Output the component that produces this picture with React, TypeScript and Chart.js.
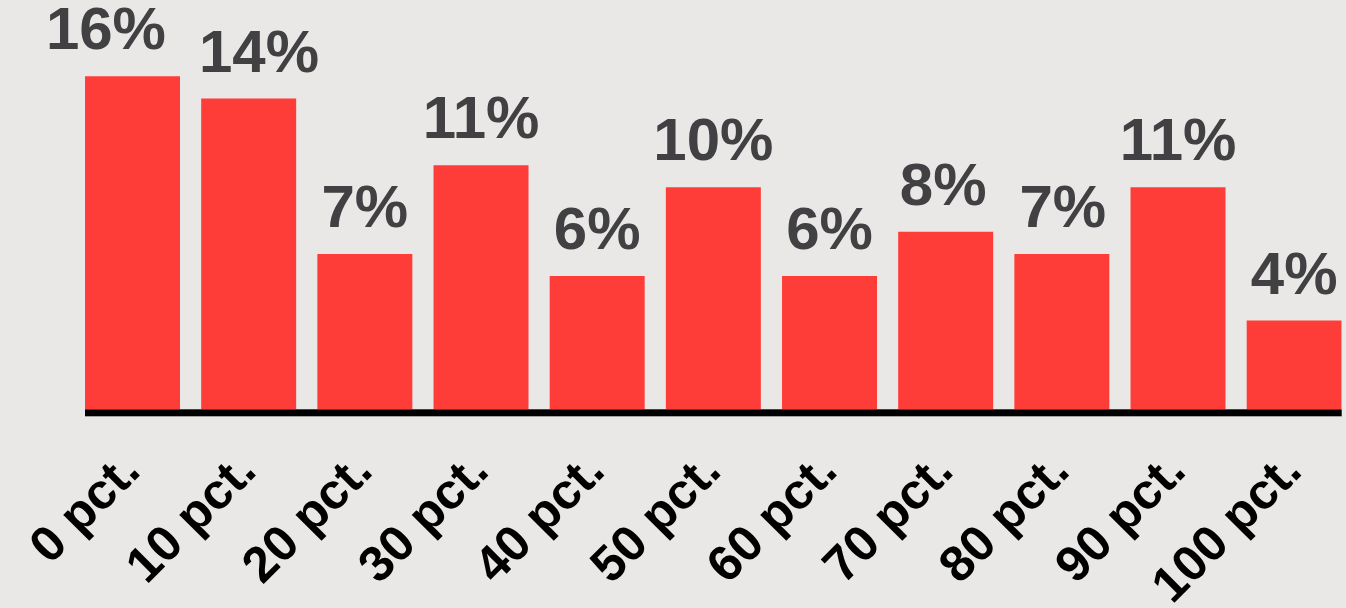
import React, { useEffect, useRef } from "react";
import { Chart, registerables } from "chart.js";

Chart.register(...registerables);

const categories = [
  "0 pct.", "10 pct.", "20 pct.", "30 pct.", "40 pct.", "50 pct.",
  "60 pct.", "70 pct.", "80 pct.", "90 pct.", "100 pct.",
];
const values = [15, 14, 7, 11, 6, 10, 6, 8, 7, 10, 4];
const valueLabels = ["16%", "14%", "7%", "11%", "6%", "10%", "6%", "8%", "7%", "11%", "4%"];

const BG = "#e9e8e6";
const BAR = "#ff3d38";
const LABEL = "#414042";
const FONT = "'Liberation Sans', Arial, Helvetica, sans-serif";

const valueLabelPlugin = {
  id: "valueLabels",
  afterDatasetsDraw(chart: any) {
    const { ctx, chartArea } = chart;
    ctx.save();
    ctx.fillStyle = "#000000";
    ctx.fillRect(chartArea.left, chartArea.bottom, chartArea.right - chartArea.left, 7);
    ctx.restore();

    const meta = chart.getDatasetMeta(0);
    ctx.save();
    ctx.font = `bold 60px ${FONT}`;
    ctx.fillStyle = LABEL;
    ctx.textAlign = "center";
    ctx.textBaseline = "alphabetic";
    const boxes = meta.data.map((bar: any, i: number) => {
      const w = ctx.measureText(valueLabels[i]).width;
      return { cx: bar.x, y: bar.y - 27, w };
    });
    const minGap = 33;
    for (let i = 0; i < boxes.length - 1; i++) {
      const a = boxes[i];
      const b = boxes[i + 1];
      if (Math.abs(a.y - b.y) > 44) continue;
      const gap = (b.cx - b.w / 2) - (a.cx + a.w / 2);
      if (gap < minGap) {
        const need = minGap - gap;
        a.cx -= need * 0.72;
        b.cx += need * 0.28;
      }
    }
    boxes.forEach((bx: any, i: number) => {
      ctx.fillText(valueLabels[i], bx.cx, bx.y);
    });
    ctx.restore();
  },
};

const bgPlugin = {
  id: "bg",
  beforeDraw(chart: any) {
    const { ctx, width, height } = chart;
    ctx.save();
    ctx.fillStyle = BG;
    ctx.fillRect(0, 0, width, height);
    ctx.restore();
  },
};

export default function App() {
  const ref = useRef<HTMLCanvasElement | null>(null);

  useEffect(() => {
    document.body.style.margin = "0";
    document.body.style.background = BG;
    const canvas = ref.current;
    if (!canvas) return;
    const chart = new Chart(canvas, {
      type: "bar",
      data: {
        datasets: [
          {
            data: values.map((v, i) => ({ x: i, y: v })),
            backgroundColor: BAR,
            borderWidth: 0,
            categoryPercentage: 1,
            barPercentage: 0.8177,
          },
        ],
      },
      options: {
        responsive: false,
        animation: false,
        layout: { padding: { top: 0, left: 85, right: 4.3, bottom: 0 } },
        plugins: {
          legend: { display: false },
          tooltip: { enabled: false },
          title: { display: false },
        },
        scales: {
          x: {
            type: "linear",
            offset: false,
            min: -0.409,
            max: 10.409,
            grid: { display: false, drawTicks: false },
            border: { display: false },
            afterBuildTicks: (scale: any) => {
              scale.ticks = categories.map((_, i) => ({ value: i }));
            },
            afterFit: (scale: any) => {
              scale.height = 198.7;
              scale.paddingLeft = 0;
              scale.paddingRight = 0;
            },
            ticks: {
              autoSkip: false,
              minRotation: 45,
              maxRotation: 45,
              padding: 33,
              color: "#000000",
              font: { family: FONT, size: 50, weight: "bold" },
              callback: (v: any) => categories[Math.round(Number(v))] ?? "",
            },
          },
          y: {
            display: false,
            min: 0,
            max: 18.44,
          },
        },
      },
      plugins: [bgPlugin, valueLabelPlugin],
    });
    return () => chart.destroy();
  }, []);

  return (
    <div style={{ position: "fixed", left: 0, top: 0, width: 1346, height: 608, background: BG }}>
      <canvas ref={ref} width={1346} height={608} style={{ display: "block", width: 1346, height: 608 }} />
    </div>
  );
}
